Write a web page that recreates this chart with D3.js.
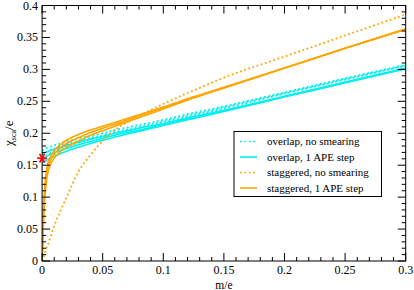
<!DOCTYPE html>
<html><head><meta charset="utf-8">
<script src="https://cdn.jsdelivr.net/npm/d3@7"></script>
<style>body{margin:0;background:#fff;}svg{display:block;}text{font-family:"Liberation Serif","Times New Roman",serif;}</style>
</head><body><svg id="c" width="414" height="290"></svg>
<script>
// Data
const mVals = [0, 0.001, 0.002, 0.004, 0.007, 0.01, 0.015, 0.02, 0.03, 0.04, 0.05, 0.06, 0.075, 0.1, 0.125, 0.15, 0.2, 0.25, 0.3];
const staggeredApe = [
  [0, 0.075, 0.112, 0.146, 0.164, 0.173, 0.182, 0.189, 0.198, 0.205, 0.211, 0.217, 0.226, 0.241, 0.257, 0.272, 0.302, 0.333, 0.363],
  [0, 0.065, 0.102, 0.139, 0.158, 0.167, 0.177, 0.184, 0.193, 0.201, 0.208, 0.214, 0.224, 0.240, 0.256, 0.271, 0.302, 0.333, 0.363],
  [0, 0.055, 0.092, 0.131, 0.151, 0.161, 0.171, 0.178, 0.188, 0.197, 0.204, 0.211, 0.221, 0.238, 0.255, 0.271, 0.302, 0.333, 0.363]
];
const staggeredNoSmear = [
  [0, 0.005, 0.011, 0.022, 0.038, 0.055, 0.078, 0.099, 0.140, 0.166, 0.188, 0.205, 0.222, 0.246, 0.267, 0.287, 0.320, 0.353, 0.386]
];
const overlapApe = [
  [0.167, 0.168, 0.169, 0.171, 0.173, 0.175, 0.178, 0.181, 0.186, 0.191, 0.195, 0.200, 0.206, 0.215, 0.226, 0.236, 0.258, 0.280, 0.302],
  [0.160, 0.161, 0.162, 0.164, 0.167, 0.169, 0.173, 0.176, 0.182, 0.187, 0.192, 0.197, 0.203, 0.213, 0.224, 0.235, 0.257, 0.279, 0.301],
  [0.153, 0.154, 0.155, 0.158, 0.161, 0.164, 0.168, 0.172, 0.178, 0.184, 0.189, 0.194, 0.201, 0.212, 0.223, 0.234, 0.257, 0.279, 0.301]
];
const overlapNoSmear = [
  [0.173, 0.174, 0.175, 0.177, 0.179, 0.181, 0.184, 0.187, 0.192, 0.196, 0.200, 0.205, 0.211, 0.221, 0.232, 0.242, 0.264, 0.286, 0.307],
  [0.167, 0.168, 0.169, 0.171, 0.174, 0.176, 0.180, 0.183, 0.188, 0.193, 0.197, 0.202, 0.208, 0.219, 0.230, 0.241, 0.263, 0.285, 0.306],
  [0.161, 0.162, 0.163, 0.166, 0.169, 0.172, 0.176, 0.179, 0.185, 0.190, 0.195, 0.200, 0.206, 0.217, 0.228, 0.239, 0.262, 0.284, 0.306]
];
const starPoint = [0, 0.161];
const xTicks = [0, 0.05, 0.1, 0.15, 0.2, 0.25, 0.3];
const xTickLabels = ["0", "0.05", "0.1", "0.15", "0.2", "0.25", "0.3"];
const yTicks = [0, 0.05, 0.1, 0.15, 0.2, 0.25, 0.3, 0.35, 0.4];
const yTickLabels = ["0", "0.05", "0.1", "0.15", "0.2", "0.25", "0.3", "0.35", "0.4"];
const legendLabels = ["overlap, no smearing", "overlap, 1 APE step", "staggered, no smearing", "staggered, 1 APE step"];

const CYAN = "#00f0f0", ORANGE = "#ffa500";
const svg = d3.select("#c");
const L = 42.1, R = 405.7, T = 5.5, B = 261;
const x = d3.scaleLinear().domain([0, 0.3]).range([L, R]);
const y = d3.scaleLinear().domain([0, 0.4]).range([B, T]);

svg.append("defs").append("clipPath").attr("id", "clip")
  .append("rect").attr("x", L).attr("y", T).attr("width", R - L).attr("height", B - T);

const line = d3.line().x((d, i) => x(mVals[i])).y(d => y(d)).curve(d3.curveMonotoneX);
const g = svg.append("g").attr("clip-path", "url(#clip)");
function drawSet(set, color, dashed) {
  set.forEach(vals => {
    g.append("path").attr("d", line(vals)).attr("fill", "none").attr("stroke", color)
      .attr("stroke-width", dashed ? 1.8 : 1.6)
      .attr("stroke-dasharray", dashed ? "1.8,2.6" : null);
  });
}
drawSet(overlapNoSmear, CYAN, true);
drawSet(overlapApe, CYAN, false);
drawSet(staggeredNoSmear, ORANGE, true);
drawSet(staggeredApe, ORANGE, false);

// Frame and ticks
const ax = svg.append("g").attr("stroke", "#000").attr("stroke-width", 1);
ax.append("rect").attr("x", L).attr("y", T).attr("width", R - L).attr("height", B - T).attr("fill", "none");
const xMinor = d3.range(0, 0.3001, 0.01);
const yMinor = d3.range(0, 0.4001, 0.01);
xMinor.forEach(v => {
  const major = xTicks.some(t => Math.abs(t - v) < 1e-6);
  const len = major ? 8 : 4;
  ax.append("line").attr("x1", x(v)).attr("x2", x(v)).attr("y1", B).attr("y2", B - len);
  ax.append("line").attr("x1", x(v)).attr("x2", x(v)).attr("y1", T).attr("y2", T + len);
});
yMinor.forEach(v => {
  const major = yTicks.some(t => Math.abs(t - v) < 1e-6);
  const len = major ? 8 : 4;
  ax.append("line").attr("y1", y(v)).attr("y2", y(v)).attr("x1", L).attr("x2", L + len);
  ax.append("line").attr("y1", y(v)).attr("y2", y(v)).attr("x1", R).attr("x2", R - len);
});

// Tick labels
xTicks.forEach((t, i) => {
  svg.append("text").attr("x", x(t)).attr("y", 274).attr("text-anchor", "middle")
    .attr("font-size", 12).text(xTickLabels[i]);
});
yTicks.forEach((t, i) => {
  svg.append("text").attr("x", 38).attr("y", y(t) + 4).attr("text-anchor", "end")
    .attr("font-size", 12).text(yTickLabels[i]);
});
svg.append("text").attr("x", (L + R) / 2).attr("y", 288.5).attr("text-anchor", "middle")
  .attr("font-size", 11.5).text("m/e");
const yl = svg.append("text").attr("transform", `translate(13,${(T + B) / 2}) rotate(-90)`)
  .attr("text-anchor", "middle").attr("font-size", 13);
yl.append("tspan").text("χ");
yl.append("tspan").attr("font-size", 8).attr("dy", 3).text("sca");
yl.append("tspan").attr("dy", -3).text("/e");

// Star
const sx = x(starPoint[0]), sy = y(starPoint[1]), sr = 5;
[0, 60, 120].forEach(a => {
  const r = a * Math.PI / 180;
  svg.append("line").attr("x1", sx - sr * Math.cos(r)).attr("y1", sy - sr * Math.sin(r))
    .attr("x2", sx + sr * Math.cos(r)).attr("y2", sy + sr * Math.sin(r))
    .attr("stroke", "#ff0000").attr("stroke-width", 1.6);
});

// Legend
const lg = svg.append("g");
lg.append("rect").attr("x", 234).attr("y", 131.5).attr("width", 147.5).attr("height", 65)
  .attr("fill", "#fff").attr("stroke", "#000").attr("stroke-width", 1);
const legStyles = [[CYAN, true], [CYAN, false], [ORANGE, true], [ORANGE, false]];
legendLabels.forEach((lab, i) => {
  const yy = 141.5 + i * 15.5;
  lg.append("line").attr("x1", 240).attr("x2", 257).attr("y1", yy).attr("y2", yy)
    .attr("stroke", legStyles[i][0]).attr("stroke-width", 1.6)
    .attr("stroke-dasharray", legStyles[i][1] ? "1.8,2.6" : null);
  lg.append("text").attr("x", 267).attr("y", yy + 3.8).attr("font-size", 11).text(lab);
});
</script></body></html>
